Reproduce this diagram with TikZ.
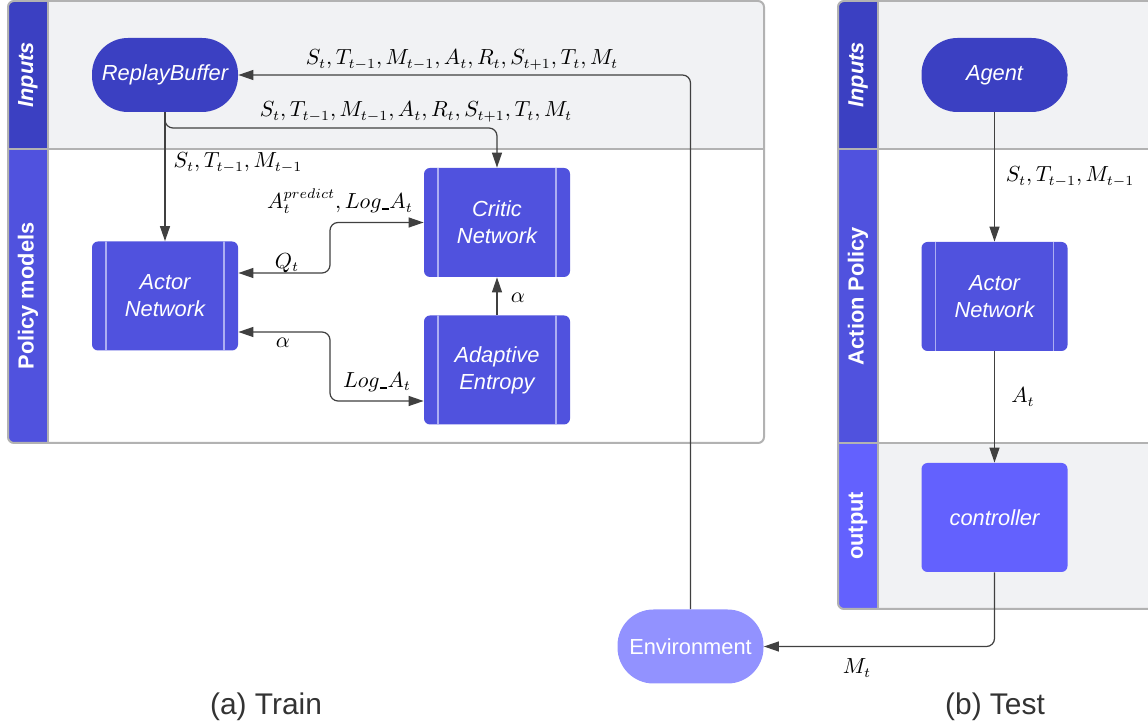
\documentclass[11pt,tikz,border=0pt]{standalone}
\usepackage[no-math]{fontspec}
\setmainfont{Liberation Sans}
\usetikzlibrary{arrows.meta}
\definecolor{inblue}{RGB}{59,64,194}
\definecolor{polblue}{RGB}{80,82,222}
\definecolor{outblue}{RGB}{99,97,254}
\definecolor{envblue}{RGB}{146,146,255}
\definecolor{lanegray}{RGB}{241,242,244}
\definecolor{edgegray}{RGB}{178,178,178}
\definecolor{linegray}{RGB}{64,64,64}
\definecolor{barline}{RGB}{172,174,242}
\newcommand{\lowbar}{\mbox{\kern0.4pt\rule[-0.6pt]{3.2pt}{0.9pt}\kern0.4pt}}
\begin{document}
\begin{tikzpicture}[>={Triangle[length=7.5bp,width=5bp]},line join=bevel,
  pill/.style={rectangle,rounded corners=18bp,minimum width=73bp,minimum height=37bp,inner sep=0pt,text=white,font=\itshape},
  netbox/.style={rectangle,rounded corners=3bp,fill=polblue,minimum width=73bp,minimum height=54.5bp,inner sep=0pt,align=center,text=white,font=\itshape,
    path picture={\draw [barline,line width=0.6bp] ([xshift=7bp]path picture bounding box.north west) -- ([xshift=7bp]path picture bounding box.south west) ([xshift=-7bp]path picture bounding box.north east) -- ([xshift=-7bp]path picture bounding box.south east);}},
  lanetitle/.style={rotate=90,text=white,font=\bfseries},
  frame/.style={edgegray,line width=1bp},
  flow/.style={linegray,line width=0.6bp,rounded corners=4bp},
  lbl/.style={inner sep=0.5pt,font=\fontsize{10.5}{12.6}\selectfont},
  caption/.style={font=\fontsize{15}{18}\selectfont,text=black!80},
]
\useasboundingbox (0bp,0bp) rectangle (574bp,363.5bp);
%% (a) Train lanes
\begin{scope}
  \clip [rounded corners=3bp] (4bp,142bp) rectangle (382bp,363bp);
  \fill [lanegray] (4bp,289bp) rectangle (382bp,363bp);
  \fill [white] (4bp,142bp) rectangle (382bp,289bp);
  \fill [inblue] (4bp,289bp) rectangle (24bp,363bp);
  \fill [polblue] (4bp,142bp) rectangle (24bp,289bp);
\end{scope}
\draw [frame] (24bp,142bp) -- (24bp,363bp) (4bp,289bp) -- (382bp,289bp);
\draw [frame,rounded corners=3bp] (4bp,142bp) rectangle (382bp,363bp);
\node (lane_inputs_a) at (14bp,326bp) [lanetitle,font=\bfseries\itshape] {Inputs};
\node (lane_policy) at (14bp,215.5bp) [lanetitle] {Policy models};
%% (b) Test lanes
\begin{scope}
  \clip [rounded corners=3bp] (419bp,59bp) rectangle (577bp,363bp);
  \fill [lanegray] (419bp,289bp) rectangle (577bp,363bp);
  \fill [white] (419bp,142bp) rectangle (577bp,289bp);
  \fill [lanegray] (419bp,59bp) rectangle (577bp,142bp);
  \fill [inblue] (419bp,289bp) rectangle (439bp,363bp);
  \fill [polblue] (419bp,142bp) rectangle (439bp,289bp);
  \fill [outblue] (419bp,59bp) rectangle (439bp,142bp);
\end{scope}
\draw [frame] (439bp,59bp) -- (439bp,363bp) (419bp,289bp) -- (577bp,289bp) (419bp,142bp) -- (577bp,142bp);
\draw [frame,rounded corners=3bp] (419bp,59bp) rectangle (577bp,363bp);
\node (lane_inputs_b) at (429bp,326bp) [lanetitle,font=\bfseries\itshape] {Inputs};
\node (lane_action) at (429bp,215.5bp) [lanetitle] {Action Policy};
\node (lane_output) at (429bp,100.5bp) [lanetitle] {output};
%%
\node (replay_buffer) at (82.5bp,326bp) [pill,fill=inblue] {ReplayBuffer};
\node (critic_net) at (248.5bp,252.25bp) [netbox] {Critic\\Network};
\node (actor_net) at (82.5bp,215.5bp) [netbox] {Actor\\Network};
\node (entropy) at (248.5bp,178.5bp) [netbox] {Adaptive\\Entropy};
\node (environment) at (345.25bp,40.25bp) [pill,fill=envblue,font=\upshape] {Environment};
\node (agent) at (497.25bp,326bp) [pill,fill=inblue] {Agent};
\node (actor_test) at (497.25bp,215.25bp) [netbox] {Actor\\Network};
\node (controller) at (497.25bp,104.75bp) [netbox,fill=outblue,path picture={}] {controller};
%
\draw [flow,->] (environment.north) |- (replay_buffer.east);
\draw [flow,->] (replay_buffer.south) -- (82.5bp,299.5bp) -| (critic_net.north);
\draw [flow,->] (replay_buffer.south) -- (actor_net.north);
\draw [flow,<->] ([yshift=11.5bp]actor_net.east) -- (165bp,227bp) |- (critic_net.west);
\draw [flow,<->] ([yshift=-18bp]actor_net.east) -- (165bp,197.5bp) |- ([yshift=-15.5bp]entropy.west);
\draw [flow,->] (entropy.north) -- (critic_net.south);
\draw [flow,->] (agent.south) -- (actor_test.north);
\draw [flow,->] (actor_test.south) -- (controller.north);
\draw [flow,->] (controller.south) |- (environment.east);
%
\node (lbl_memory) at (231bp,333.5bp) [lbl] {$S_t, T_{t-1}, M_{t-1}, A_t, R_t, S_{t+1}, T_t, M_t$};
\node (lbl_sample) at (208bp,307.5bp) [lbl] {$S_t, T_{t-1}, M_{t-1}, A_t, R_t, S_{t+1}, T_t, M_t$};
\node (lbl_state_a) at (119bp,282bp) [lbl] {$S_t, T_{t-1}, M_{t-1}$};
\node (lbl_predict) at (170bp,263bp) [lbl] {$A_t^{predict}, Log\lowbar A_t$};
\node (lbl_q) at (143.5bp,232bp) [lbl] {$Q_t$};
\node (lbl_alpha_a) at (141.5bp,192bp) [lbl] {$\alpha$};
\node (lbl_log) at (188.5bp,172.5bp) [lbl] {$Log\lowbar A_t$};
\node (lbl_alpha_b) at (259bp,214.5bp) [lbl] {$\alpha$};
\node (lbl_state_b) at (535bp,275bp) [lbl] {$S_t, T_{t-1}, M_{t-1}$};
\node (lbl_action) at (511.5bp,165bp) [lbl] {$A_t$};
\node (lbl_mt) at (428.5bp,29.5bp) [lbl] {$M_t$};
%
\node (cap_train) at (133bp,10bp) [caption] {(a) Train};
\node (cap_test) at (497.5bp,10bp) [caption] {(b) Test};
\end{tikzpicture}
\end{document}
